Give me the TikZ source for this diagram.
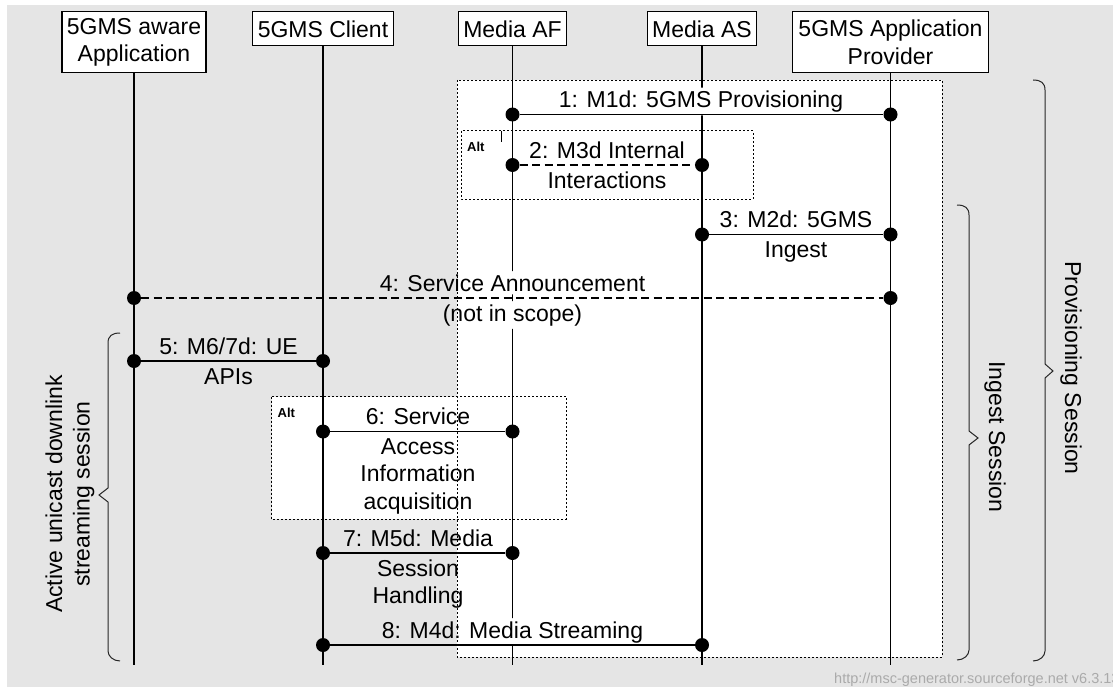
\documentclass[tikz,border=0pt]{standalone}
\usepackage{fontspec}
\setmainfont{Liberation Sans}
\definecolor{bggray}{RGB}{229,229,229}
\definecolor{wmgray}{RGB}{170,170,170}
\newcommand\lf{\fontsize{23}{27.6}\selectfont}
\begin{document}
\begin{tikzpicture}[x=1pt,y=-1pt,
  entbox/.style={draw, line width=1.1pt, fill=white, font=\lf, align=center, inner sep=0pt},
  lab/.style={font=\lf, inner xsep=0pt, inner ysep=3pt, anchor=base},
  lifeline/.style={line width=1.1pt},
  msgline/.style={line width=1.1pt},
  msgdashed/.style={line width=1.1pt, dash pattern=on 8pt off 4.5pt},
  mdot/.style={circle, fill=black, inner sep=0pt, minimum size=14pt},
  altframe/.style={line width=0.9pt, dash pattern=on 2pt off 2pt},
  altlab/.style={font=\fontsize{13}{15}\selectfont\bfseries, anchor=base west, inner sep=0pt},
  sbrace/.style={line width=1pt, black!85},
  rottxt/.style={font=\lf, align=center, inner sep=0pt}
]
\useasboundingbox (0,0) rectangle (1113,690);
% background
\fill[white] (0,0) rectangle (1113,690);
\fill[bggray] (7,5) rectangle (1113,687);
% frame fills
\fill[white] (457,80) rectangle (942,657);
\fill[white] (461.7,130.7) rectangle (753,199);
\fill[white] (271.7,396.7) rectangle (566,519.3);

% entities
\node[entbox, minimum width=144pt, minimum height=61pt] (app) at (134,42.3) {5GMS aware\\Application};
\node[entbox, minimum width=141pt, minimum height=34pt] (cli) at (323,28.8) {5GMS Client};
\node[entbox, minimum width=108pt, minimum height=34pt] (af) at (512.5,28.8) {Media AF};
\node[entbox, minimum width=109pt, minimum height=34pt] (as) at (702,28.8) {Media AS};
\node[entbox, minimum width=196pt, minimum height=61pt] (ap) at (890.5,42.3) {5GMS Application\\Provider};

\coordinate (appE) at (134,665);
\coordinate (cliE) at (323,665);
\coordinate (afE) at (512.5,665);
\coordinate (asE) at (702,665);
\coordinate (apE) at (890.5,665);

% labels
\node[lab] (l1a) at (701,107.5) {1: M1d: 5GMS Provisioning};
\node[lab] (l2a) at (607,158) {2: M3d Internal};
\node[lab] (l2b) at (607,188) {Interactions};
\node[lab] (l3a) at (796,227.5) {3: M2d: 5GMS};
\node[lab] (l3b) at (796,257.5) {Ingest};
\node[lab] (l4a) at (512.5,291) {4: Service Announcement};
\node[lab] (l4b) at (512.5,321) {(not in scope)};
\node[lab] (l5a) at (228.5,354) {5: M6/7d: UE};
\node[lab] (l5b) at (228.5,384) {APIs};
\node[lab] (l6a) at (418,424.5) {6: Service};
\node[lab] (l6b) at (418,454) {Access};
\node[lab] (l6c) at (418,481.5) {Information};
\node[lab] (l6d) at (418,509) {acquisition};
\node[lab] (l7a) at (418,546) {7: M5d: Media};
\node[lab] (l7b) at (418,576) {Session};
\node[lab] (l7c) at (418,603.5) {Handling};
\node[lab] (l8a) at (512.5,638) {8: M4d: Media Streaming};

% lifelines, hidden behind the labels they cross
\begin{scope}[even odd rule]
\clip (0,0) rectangle (1113,690)
  (l1a.south west) rectangle (l1a.north east)
  (l4a.south west) rectangle (l4a.north east)
  (l4b.south west) rectangle (l4b.north east)
  (l8a.south west) rectangle (l8a.north east);
\draw[lifeline] (app.south) -- (appE);
\draw[lifeline] (cli.south) -- (cliE);
\draw[lifeline] (af.south) -- (afE);
\draw[lifeline] (as.south) -- (asE);
\draw[lifeline] (ap.south) -- (apE);
\end{scope}

% messages
\node[mdot] (m1a) at (512.5,114.5) {};
\node[mdot] (m1b) at (890.5,114.5) {};
\draw[msgline] (m1a) -- (m1b);

\node[mdot] (m2a) at (512.5,165) {};
\node[mdot] (m2b) at (702,165) {};
\draw[msgdashed] (m2a) -- (m2b);

\node[mdot] (m3a) at (702,234.5) {};
\node[mdot] (m3b) at (890.5,234.5) {};
\draw[msgline] (m3a) -- (m3b);

\node[mdot] (m4a) at (134,298) {};
\node[mdot] (m4b) at (890.5,298) {};
\draw[msgdashed] (m4a) -- (m4b);

\node[mdot] (m5a) at (134,361) {};
\node[mdot] (m5b) at (323,361) {};
\draw[msgline] (m5a) -- (m5b);

\node[mdot] (m6a) at (323,431.5) {};
\node[mdot] (m6b) at (512.5,431.5) {};
\draw[msgline] (m6a) -- (m6b);

\node[mdot] (m7a) at (323,553) {};
\node[mdot] (m7b) at (512.5,553) {};
\draw[msgline] (m7a) -- (m7b);

\node[mdot] (m8a) at (323,645) {};
\node[mdot] (m8b) at (702,645) {};
\draw[msgline] (m8a) -- (m8b);

% frames
\draw[altframe] (457,80) rectangle (942,657);
\draw[altframe] (461.7,130.7) rectangle (753,199);
\draw[altframe] (271.7,396.7) rectangle (566,519.3);
\node[altlab] (alt1) at (467,151.5) {Alt};
\node[altlab] (alt2) at (277.5,417.5) {Alt};
\draw[line width=0.8pt] (501,131) -- (501,142);

% braces
\draw[sbrace] (1033,80) .. controls (1041,80) and (1045,83) .. (1045,90) -- (1045,364) -- (1053,371) -- (1045,378) -- (1045,651) .. controls (1045,656) and (1040,661) .. (1033,661);
\node[rottxt, rotate=-90] (provtxt) at (1071,368) {Provisioning Session};

\draw[sbrace] (957,205) .. controls (965,205) and (969,208) .. (969,215) -- (969,431) -- (978,438) -- (969,445) -- (969,650) .. controls (969,655) and (964,660) .. (957,660);
\node[rottxt, rotate=-90] (ingtxt) at (995,437) {Ingest Session};

\draw[sbrace] (120,333) .. controls (112,333) and (108,336) .. (108,343) -- (108,488) -- (99,495) -- (108,502) -- (108,651) .. controls (108,656) and (113,661) .. (120,661);
\node[rottxt, rotate=90] (acttxt) at (70,494) {Active unicast downlink\\streaming session};

% watermark
\node[font=\fontsize{14.5}{17}\selectfont, text=wmgray, anchor=base west, inner sep=0pt] (wm) at (834,683) {http://msc-generator.sourceforge.net v6.3.13};
\end{tikzpicture}
\end{document}
